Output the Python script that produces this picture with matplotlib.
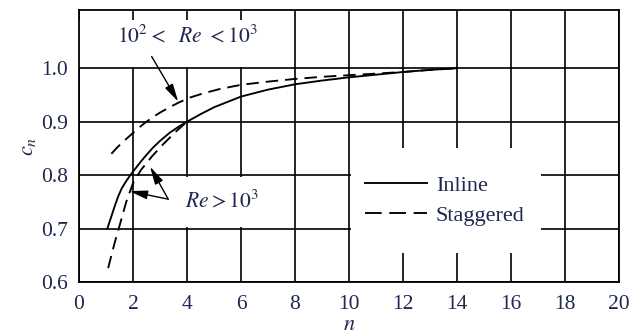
import matplotlib
matplotlib.use("Agg")
import matplotlib.pyplot as plt
from matplotlib.lines import Line2D
from matplotlib.patches import Rectangle

# Correction factor c_n versus number of tube rows n
n_inline = [1.05, 1.2, 1.33, 1.45, 1.58, 1.75, 1.9, 2.1, 2.3, 2.5, 2.75, 3.0, 3.35,
            3.7, 4.0, 4.5, 5.0, 6.0, 7.0, 8.0, 9.0, 10.0, 11.0, 12.0, 13.0, 14.0]
c_inline = [0.700, 0.723, 0.743, 0.760, 0.775, 0.789, 0.800, 0.813, 0.826, 0.838,
            0.852, 0.864, 0.879, 0.891, 0.900, 0.914, 0.927, 0.947, 0.960, 0.970,
            0.977, 0.983, 0.988, 0.993, 0.997, 1.000]

n_stag_high = [1.08, 1.2, 1.33, 1.5, 1.75, 2.0, 2.3, 2.7, 3.1, 3.6, 4.0]
c_stag_high = [0.626, 0.650, 0.675, 0.705, 0.750, 0.785, 0.810, 0.835, 0.857, 0.882, 0.900]

n_stag_low = [1.2, 1.4, 1.6, 1.8, 2.0, 2.25, 2.5, 2.75, 3.0, 3.35, 3.7, 4.1, 4.6,
              5.2, 6.0, 7.0, 8.0, 9.0, 10.0, 11.0, 12.0, 13.0, 14.0]
c_stag_low = [0.840, 0.851, 0.861, 0.870, 0.879, 0.890, 0.900, 0.909, 0.917, 0.927,
              0.936, 0.945, 0.953, 0.961, 0.969, 0.975, 0.980, 0.984, 0.987, 0.990,
              0.993, 0.997, 1.000]

x_ticks = [0, 2, 4, 6, 8, 10, 12, 14, 16, 18, 20]
y_ticks = [0.6, 0.7, 0.8, 0.9, 1.0]
y_tick_labels = ["0.6", "0.7", "0.8", "0.9", "1.0"]
legend_labels = ["Inline", "Staggered"]

TEXT = "#1e2850"
plt.rcParams["font.family"] = ["Liberation Serif", "DejaVu Serif"]
plt.rcParams["mathtext.fontset"] = "stix"
plt.rcParams["lines.scale_dashes"] = False

fig = plt.figure(figsize=(6.33, 3.36), dpi=100)
ax = fig.add_axes([0.1248, 0.1607, 0.8532, 0.8095])
ax.set_xlim(0, 20)
ax.set_ylim(0.6, 1.109)

ax.set_xticks(x_ticks)
ax.set_xticklabels([str(v) for v in x_ticks])
ax.set_yticks(y_ticks)
ax.set_yticklabels(y_tick_labels)
ax.tick_params(length=0, labelsize=15.5, labelcolor=TEXT)
ax.tick_params(axis="x", pad=9.5)
ax.tick_params(axis="y", pad=8.0)
ax.set_axisbelow(True)
ax.grid(True, color="black", linewidth=1.2)
for s in ax.spines.values():
    s.set_linewidth(1.3)
    s.set_zorder(3)

# blank panels behind the annotations and the key
for (x0, y0, w, h) in [(0.0, 1.003, 7.88, 0.087),
                       (2.06, 0.703, 5.88, 0.094),
                       (10.06, 0.655, 7.05, 0.196)]:
    ax.add_patch(Rectangle((x0, y0), w, h, facecolor="white", edgecolor="none", zorder=1))

lw = 1.35
dash = (0, (9, 5))
ax.plot(n_inline, c_inline, color="black", lw=lw, zorder=2)
ax.plot(n_stag_high, c_stag_high, color="black", lw=lw, linestyle=dash, zorder=2)
ax.plot(n_stag_low, c_stag_low, color="black", lw=lw, linestyle=dash, zorder=2)

arrow = dict(arrowstyle="-|>,head_length=0.9,head_width=0.22", color="black",
             lw=1.0, shrinkA=0, shrinkB=0, mutation_scale=12)
ax.text(4.0, 1.060, r"$10^2 <\ \ Re\ <10^3$", fontsize=15.5, color=TEXT,
        ha="center", va="center", zorder=4)
ax.annotate("", xy=(3.675, 0.9375), xytext=(2.69, 1.022), arrowprops=arrow, zorder=4)

ax.text(5.31, 0.752, r"$Re > 10^3$", fontsize=15.5, color=TEXT,
        ha="center", va="center", zorder=4)
ax.annotate("", xy=(1.87, 0.770), xytext=(3.305, 0.755), arrowprops=arrow, zorder=4)
ax.annotate("", xy=(2.63, 0.816), xytext=(3.305, 0.755), arrowprops=arrow, zorder=4)

handles = [Line2D([], [], color="black", lw=lw),
           Line2D([], [], color="black", lw=lw, linestyle=(0, (12, 5.5)))]
ax.legend(handles, legend_labels, loc="center left", bbox_to_anchor=(0.529, 0.300),
          frameon=False, fontsize=16, labelcolor=TEXT, handlelength=2.8,
          handletextpad=0.4, labelspacing=0.42, borderpad=0, borderaxespad=0)

ax.set_xlabel(r"$n$", fontsize=16, color=TEXT, labelpad=1.5)
ax.set_ylabel(r"$c_n$", fontsize=16, color=TEXT, labelpad=2)

fig.savefig("out.png", dpi=100)
